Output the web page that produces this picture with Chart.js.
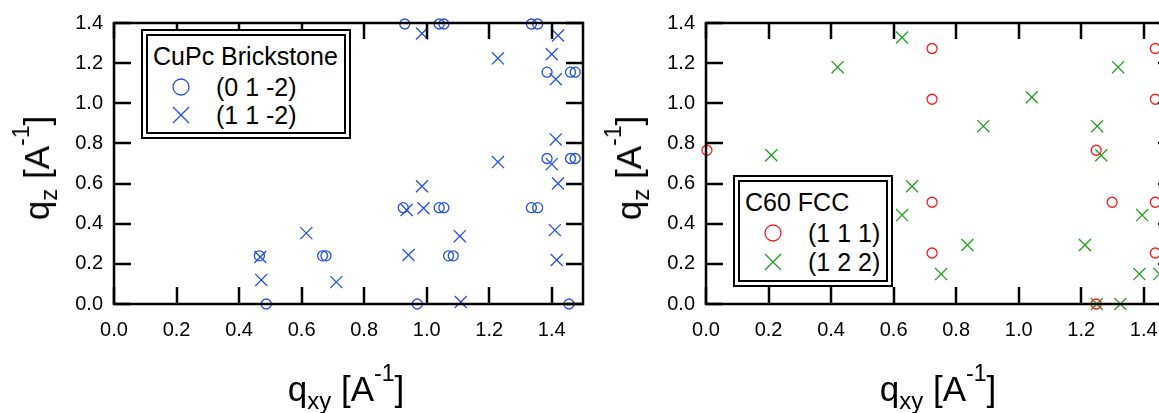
<!DOCTYPE html>
<html>
<head>
<meta charset="utf-8">
<script src="https://cdn.jsdelivr.net/npm/chart.js@4.4.1/dist/chart.umd.min.js"></script>
<style>
  html, body { margin: 0; padding: 0; background: #fff; }
  #wrap { position: relative; width: 1159px; height: 413px; overflow: hidden; font-family: "Liberation Sans", Arial, sans-serif; color: #000; }
  canvas { position: absolute; top: 0; }
  .ttl { position: absolute; font-size: 35px; line-height: 35px; white-space: nowrap; }
  .ttl .sb { font-size: 24px; position: relative; top: 8px; }
  .ttl .sp { font-size: 23px; position: relative; top: -20px; }
  .lg { position: absolute; border: 7px double #000; box-sizing: border-box; background: #fff; }
  .lt { position: absolute; white-space: nowrap; line-height: 1; font-size: 25px; }
  .lm { position: absolute; }
</style>
</head>
<body>
<div id="wrap">
  <canvas id="left" width="600" height="413" style="left:0px"></canvas>
  <canvas id="right" width="600" height="413" style="left:592px"></canvas>

  <div class="ttl" style="left:39px; top:168px; transform: translate(-50%,-50%) rotate(-90deg);">q<span class="sb">z</span> [A<span class="sp">-1</span>]</div>
  <div class="ttl" style="left:346px; top:371px; transform: translateX(-50%);">q<span class="sb">xy</span> [A<span class="sp">-1</span>]</div>
  <div class="ttl" style="left:631px; top:168px; transform: translate(-50%,-50%) rotate(-90deg);">q<span class="sb">z</span> [A<span class="sp">-1</span>]</div>
  <div class="ttl" style="left:938px; top:371px; transform: translateX(-50%);">q<span class="sb">xy</span> [A<span class="sp">-1</span>]</div>

  <!-- CuPc legend -->
  <div class="lg" style="left:141px; top:29px; width:210px; height:110px;"></div>
  <span class="lt" style="left:153px; top:44px;">CuPc Brickstone</span>
  <svg class="lm" style="left:172px; top:78px;" width="18" height="18"><circle cx="9" cy="9" r="8" fill="none" stroke="#2250e0" stroke-width="1.3"/></svg>
  <span class="lt" style="left:216px; top:75px;">(0 1 -2)</span>
  <svg class="lm" style="left:172px; top:106px;" width="18" height="18"><path d="M1 1 L17 17 M17 1 L1 17" stroke="#2250e0" stroke-width="1.3"/></svg>
  <span class="lt" style="left:216px; top:103px;">(1 1 -2)</span>

  <!-- C60 legend -->
  <div class="lg" style="left:733px; top:175px; width:160px; height:112px;"></div>
  <span class="lt" style="left:745px; top:190px;">C60 FCC</span>
  <svg class="lm" style="left:764px; top:224px;" width="18" height="18"><circle cx="9" cy="9" r="8" fill="none" stroke="#ff1a1a" stroke-width="1.3"/></svg>
  <span class="lt" style="left:808px; top:221px;">(1 1 1)</span>
  <svg class="lm" style="left:764px; top:253px;" width="18" height="18"><path d="M1 1 L17 17 M17 1 L1 17" stroke="#1fa01f" stroke-width="1.3"/></svg>
  <span class="lt" style="left:808px; top:250px;">(1 2 2)</span>
</div>

<script>
// CuPc Brickstone, (0 1 -2) reflections
const cupcCircleX = [0.465, 0.487, 0.667, 0.678, 0.925, 0.93, 0.97, 1.04, 1.055, 1.04, 1.055, 1.07, 1.085, 1.335, 1.355, 1.335, 1.355, 1.385, 1.385, 1.455, 1.46, 1.475, 1.46, 1.475];
const cupcCircleY = [0.24, 0, 0.24, 0.24, 0.48, 1.395, 0, 0.48, 0.48, 1.395, 1.395, 0.24, 0.24, 0.48, 0.48, 1.395, 1.395, 0.725, 1.155, 0, 0.725, 0.725, 1.155, 1.155];
// CuPc Brickstone, (1 1 -2) reflections
const cupcCrossX = [0.985, 1.228, 1.42, 1.40, 1.413, 1.413, 1.228, 1.40, 1.42, 0.985, 0.936, 0.99, 1.106, 0.942, 1.41, 1.416, 1.109, 0.468, 0.471, 0.615, 0.711];
const cupcCrossY = [1.348, 1.224, 1.338, 1.244, 1.12, 0.82, 0.707, 0.697, 0.60, 0.587, 0.468, 0.477, 0.338, 0.244, 0.368, 0.219, 0.01, 0.234, 0.12, 0.353, 0.109];
// C60 FCC, (1 1 1)
const c60CircleX = [0.003, 0.723, 0.723, 1.437, 1.437, 1.248, 0.723, 0.723, 1.299, 1.437, 1.437, 1.248];
const c60CircleY = [0.766, 1.273, 1.02, 1.273, 1.02, 0.766, 0.507, 0.254, 0.507, 0.507, 0.254, 0];
// C60 FCC, (1 2 2)
const c60CrossX = [0.627, 0.421, 0.209, 1.318, 1.042, 0.887, 1.251, 1.264, 0.659, 0.627, 0.752, 0.836, 1.212, 1.395, 1.386, 1.45, 1.25, 1.325];
const c60CrossY = [1.328, 1.18, 0.741, 1.18, 1.03, 0.886, 0.886, 0.741, 0.587, 0.443, 0.149, 0.294, 0.294, 0.443, 0.149, 0.149, 0, 0];

// tick positions shared by both panels
const xTickValues = [0, 0.2, 0.4, 0.6, 0.8, 1.0, 1.2, 1.4];
const yTickValues = [0, 0.2, 0.4, 0.6, 0.8, 1.0, 1.2, 1.4];
const xMin = 0, xMax = 1.5, yMin = 0, yMax = 1.4;

function pts(xs, ys) {
    return xs.map((x, i) => ({ x: x, y: ys[i] }));
}

function tickLine(ctx, x0, y0, x1, y1) {
    ctx.beginPath();
    ctx.moveTo(x0, y0);
    ctx.lineTo(x1, y1);
    ctx.stroke();
}

// box around the plot with inward tick marks on all four sides
const framePlugin = {
    id: 'frame',
    afterDraw(chart) {
        const ctx = chart.ctx;
        const a = chart.chartArea;
        const sx = chart.scales.x, sy = chart.scales.y;
        ctx.save();
        ctx.setLineDash([]);
        ctx.strokeStyle = '#000';
        ctx.lineWidth = 2.5;
        xTickValues.forEach(v => {
            const px = Math.round(sx.getPixelForValue(v));
            tickLine(ctx, px, a.bottom, px, a.bottom - 17);
            tickLine(ctx, px, a.top, px, a.top + 16);
        });
        yTickValues.forEach(v => {
            const py = Math.round(sy.getPixelForValue(v));
            tickLine(ctx, a.left, py, a.left + 17, py);
            tickLine(ctx, a.right, py, a.right - 17, py);
        });
        ctx.strokeRect(a.left, a.top, a.right - a.left, a.bottom - a.top);
        ctx.restore();
    }
};

function makeChart(id, circles, crosses, circleColor, crossColor) {
    const ctx = document.getElementById(id).getContext('2d');
    return new Chart(ctx, {
        type: 'scatter',
        data: {
            datasets: [
                {
                    data: circles,
                    pointStyle: 'circle',
                    pointRadius: 5,
                    pointBorderWidth: 1.3,
                    borderColor: circleColor,
                    backgroundColor: 'rgba(0,0,0,0)',
                    clip: false
                },
                {
                    data: crosses,
                    pointStyle: 'crossRot',
                    pointRadius: 8.5,
                    pointBorderWidth: 1.3,
                    borderColor: crossColor,
                    backgroundColor: crossColor,
                    clip: false
                }
            ]
        },
        options: {
            responsive: false,
            animation: false,
            events: [],
            layout: {
                autoPadding: false,
                padding: { left: 0, top: 23, right: 17, bottom: 69 }
            },
            plugins: {
                legend: { display: false },
                tooltip: { enabled: false }
            },
            scales: {
                x: {
                    type: 'linear',
                    min: xMin,
                    max: xMax,
                    grid: { display: false, drawTicks: false },
                    border: { display: false },
                    afterBuildTicks: s => { s.ticks = xTickValues.map(v => ({ value: v })); },
                    ticks: {
                        maxRotation: 0,
                        autoSkip: false,
                        padding: 14,
                        color: '#000',
                        font: { family: 'Liberation Sans', size: 20 },
                        callback: v => v.toFixed(1)
                    },
                    afterFit: s => { s.height = 40; }
                },
                y: {
                    type: 'linear',
                    min: yMin,
                    max: yMax,
                    grid: { display: false, drawTicks: false },
                    border: { display: false },
                    afterBuildTicks: s => { s.ticks = yTickValues.map(v => ({ value: v })); },
                    ticks: {
                        autoSkip: false,
                        padding: 11,
                        color: '#000',
                        font: { family: 'Liberation Sans', size: 20 },
                        callback: v => v.toFixed(1)
                    },
                    afterFit: s => { s.width = 114; }
                }
            }
        },
        plugins: [framePlugin]
    });
}

makeChart('left', pts(cupcCircleX, cupcCircleY), pts(cupcCrossX, cupcCrossY), '#2250e0', '#2250e0');
makeChart('right', pts(c60CircleX, c60CircleY), pts(c60CrossX, c60CrossY), '#ff1a1a', '#1fa01f');
</script>
</body>
</html>
